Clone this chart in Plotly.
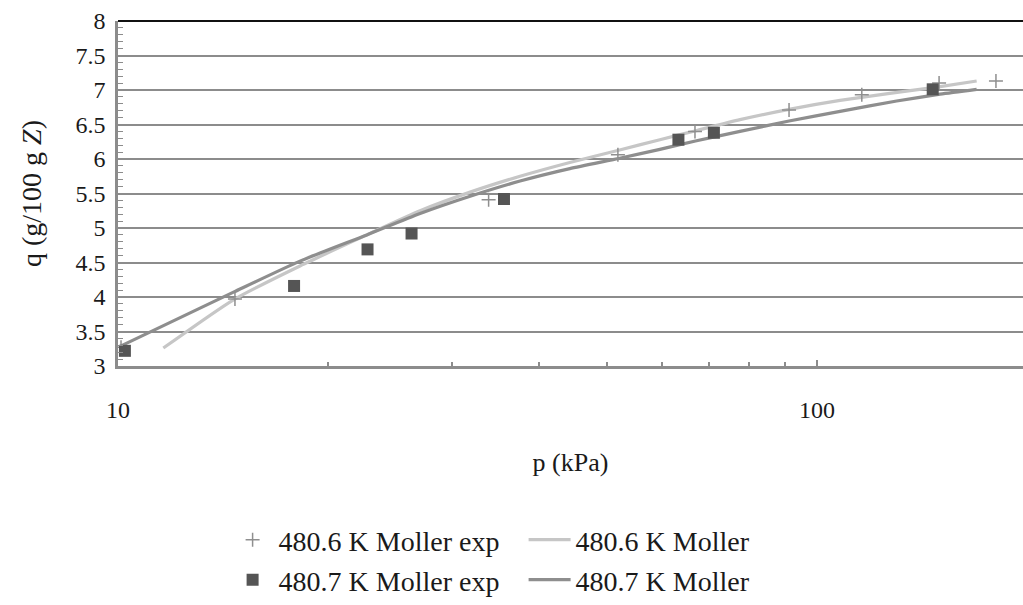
import plotly.graph_objects as go

# Experimental isotherm points, 480.6 K (Moller)
p_exp_6 = [10.1, 14.7, 33.9, 51.9, 66.9, 91.2, 115.9, 149.5, 180.3]
q_exp_6 = [3.27, 3.97, 5.41, 6.06, 6.40, 6.71, 6.93, 7.10, 7.13]

# Experimental isotherm points, 480.7 K (Moller)
p_exp_7 = [10.23, 17.86, 22.75, 26.3, 35.66, 63.35, 71.2, 146.4]
q_exp_7 = [3.22, 4.16, 4.69, 4.92, 5.42, 6.28, 6.38, 7.01]

# Model curve, 480.6 K
p_fit_6 = [11.61, 14.63, 18.21, 22.7, 27.05, 31.9, 37.6, 44.3, 52.2, 59.6, 67.1, 77.6, 91.2, 107.9, 150.0, 169.2]
q_fit_6 = [3.26, 3.96, 4.45, 4.90, 5.25, 5.52, 5.75, 5.95, 6.13, 6.28, 6.41, 6.57, 6.72, 6.85, 7.05, 7.13]

# Model curve, 480.7 K
p_fit_7 = [10.05, 14.63, 18.21, 22.7, 27.05, 31.9, 37.6, 44.3, 52.2, 59.6, 67.0, 77.6, 91.2, 107.9, 130.0, 150.0, 169.2]
q_fit_7 = [3.28, 4.07, 4.52, 4.90, 5.21, 5.46, 5.68, 5.86, 6.01, 6.14, 6.26, 6.40, 6.55, 6.69, 6.84, 6.94, 7.01]

x_tick_vals = [10, 100]
x_tick_text = ["10", "100"]
x_minor_vals = [20, 30, 40, 50, 60, 70, 80, 90]

FONT = "serif"
GRID = "#8c8c8c"
TEXT = "#1a1a1a"

fig = go.Figure()

# Model curves first so the markers sit on top of them
fig.add_trace(go.Scatter(
    x=p_fit_6, y=q_fit_6, mode="lines", name="480.6 K Moller",
    line=dict(color="#c6c6c6", width=3.2, shape="spline", smoothing=0.6),
    legend="legend", legendrank=2,
))
fig.add_trace(go.Scatter(
    x=p_fit_7, y=q_fit_7, mode="lines", name="480.7 K Moller",
    line=dict(color="#8e8e8e", width=3.2, shape="spline", smoothing=0.6),
    legend="legend2", legendrank=2,
))
fig.add_trace(go.Scatter(
    x=p_exp_6, y=q_exp_6, mode="markers", name="480.6 K Moller exp",
    marker=dict(symbol="cross-thin", size=10, line=dict(width=1.5, color="#8f8f8f")),
    legend="legend", legendrank=1,
))
fig.add_trace(go.Scatter(
    x=p_exp_7, y=q_exp_7, mode="markers", name="480.7 K Moller exp",
    marker=dict(symbol="square", size=12, color="#555555"),
    legend="legend2", legendrank=1,
))

legend_common = dict(
    orientation="h", xanchor="left", yanchor="middle", x=0.12,
    font=dict(family=FONT, size=28, color=TEXT),
    itemwidth=42, entrywidthmode="pixels", entrywidth=240,
    bgcolor="rgba(0,0,0,0)", traceorder="normal",
)

fig.update_layout(
    width=1023, height=605,
    margin=dict(l=118, r=0, t=21, b=238),
    paper_bgcolor="white", plot_bgcolor="white",
    font=dict(family=FONT, color=TEXT),
    legend=dict(**legend_common, y=-0.5),
    legend2=dict(**legend_common, y=-0.62),
    xaxis=dict(
        type="log", range=[1, 2.2947],
        tickmode="array", tickvals=x_tick_vals, ticktext=x_tick_text,
        ticks="inside", ticklen=6, tickwidth=1.5, tickcolor=GRID,
        tickfont=dict(family=FONT, size=24, color=TEXT),
        ticklabelstandoff=20,
        minor=dict(tickmode="array", tickvals=x_minor_vals, ticks="inside",
                   ticklen=4, tickwidth=1.5, tickcolor=GRID, showgrid=False),
        showgrid=False, zeroline=False,
        showline=True, linecolor=GRID, linewidth=2.5,
        title=dict(text="p (kPa)", font=dict(family=FONT, size=26, color=TEXT), standoff=32),
    ),
    yaxis=dict(
        range=[3, 8], dtick=0.5, tick0=3,
        ticks="", tickfont=dict(family=FONT, size=24, color=TEXT),
        ticklabelstandoff=5,
        showgrid=True, gridcolor=GRID, gridwidth=1.5,
        minor=dict(dtick=0.1, ticks="inside", ticklen=5, tickwidth=1.2, tickcolor=GRID, showgrid=False),
        zeroline=False,
        showline=True, linecolor=GRID, linewidth=2.5,
        title=dict(text="q (g/100 g <i>Z</i>)", font=dict(family=FONT, size=28, color=TEXT), standoff=26),
    ),
    showlegend=True,
)

# Dark frame line along the top of the plotting area
fig.add_shape(type="line", xref="paper", yref="paper", x0=0, x1=1, y0=1, y1=1,
              line=dict(color="#111111", width=2))

fig.write_html("out.html")
